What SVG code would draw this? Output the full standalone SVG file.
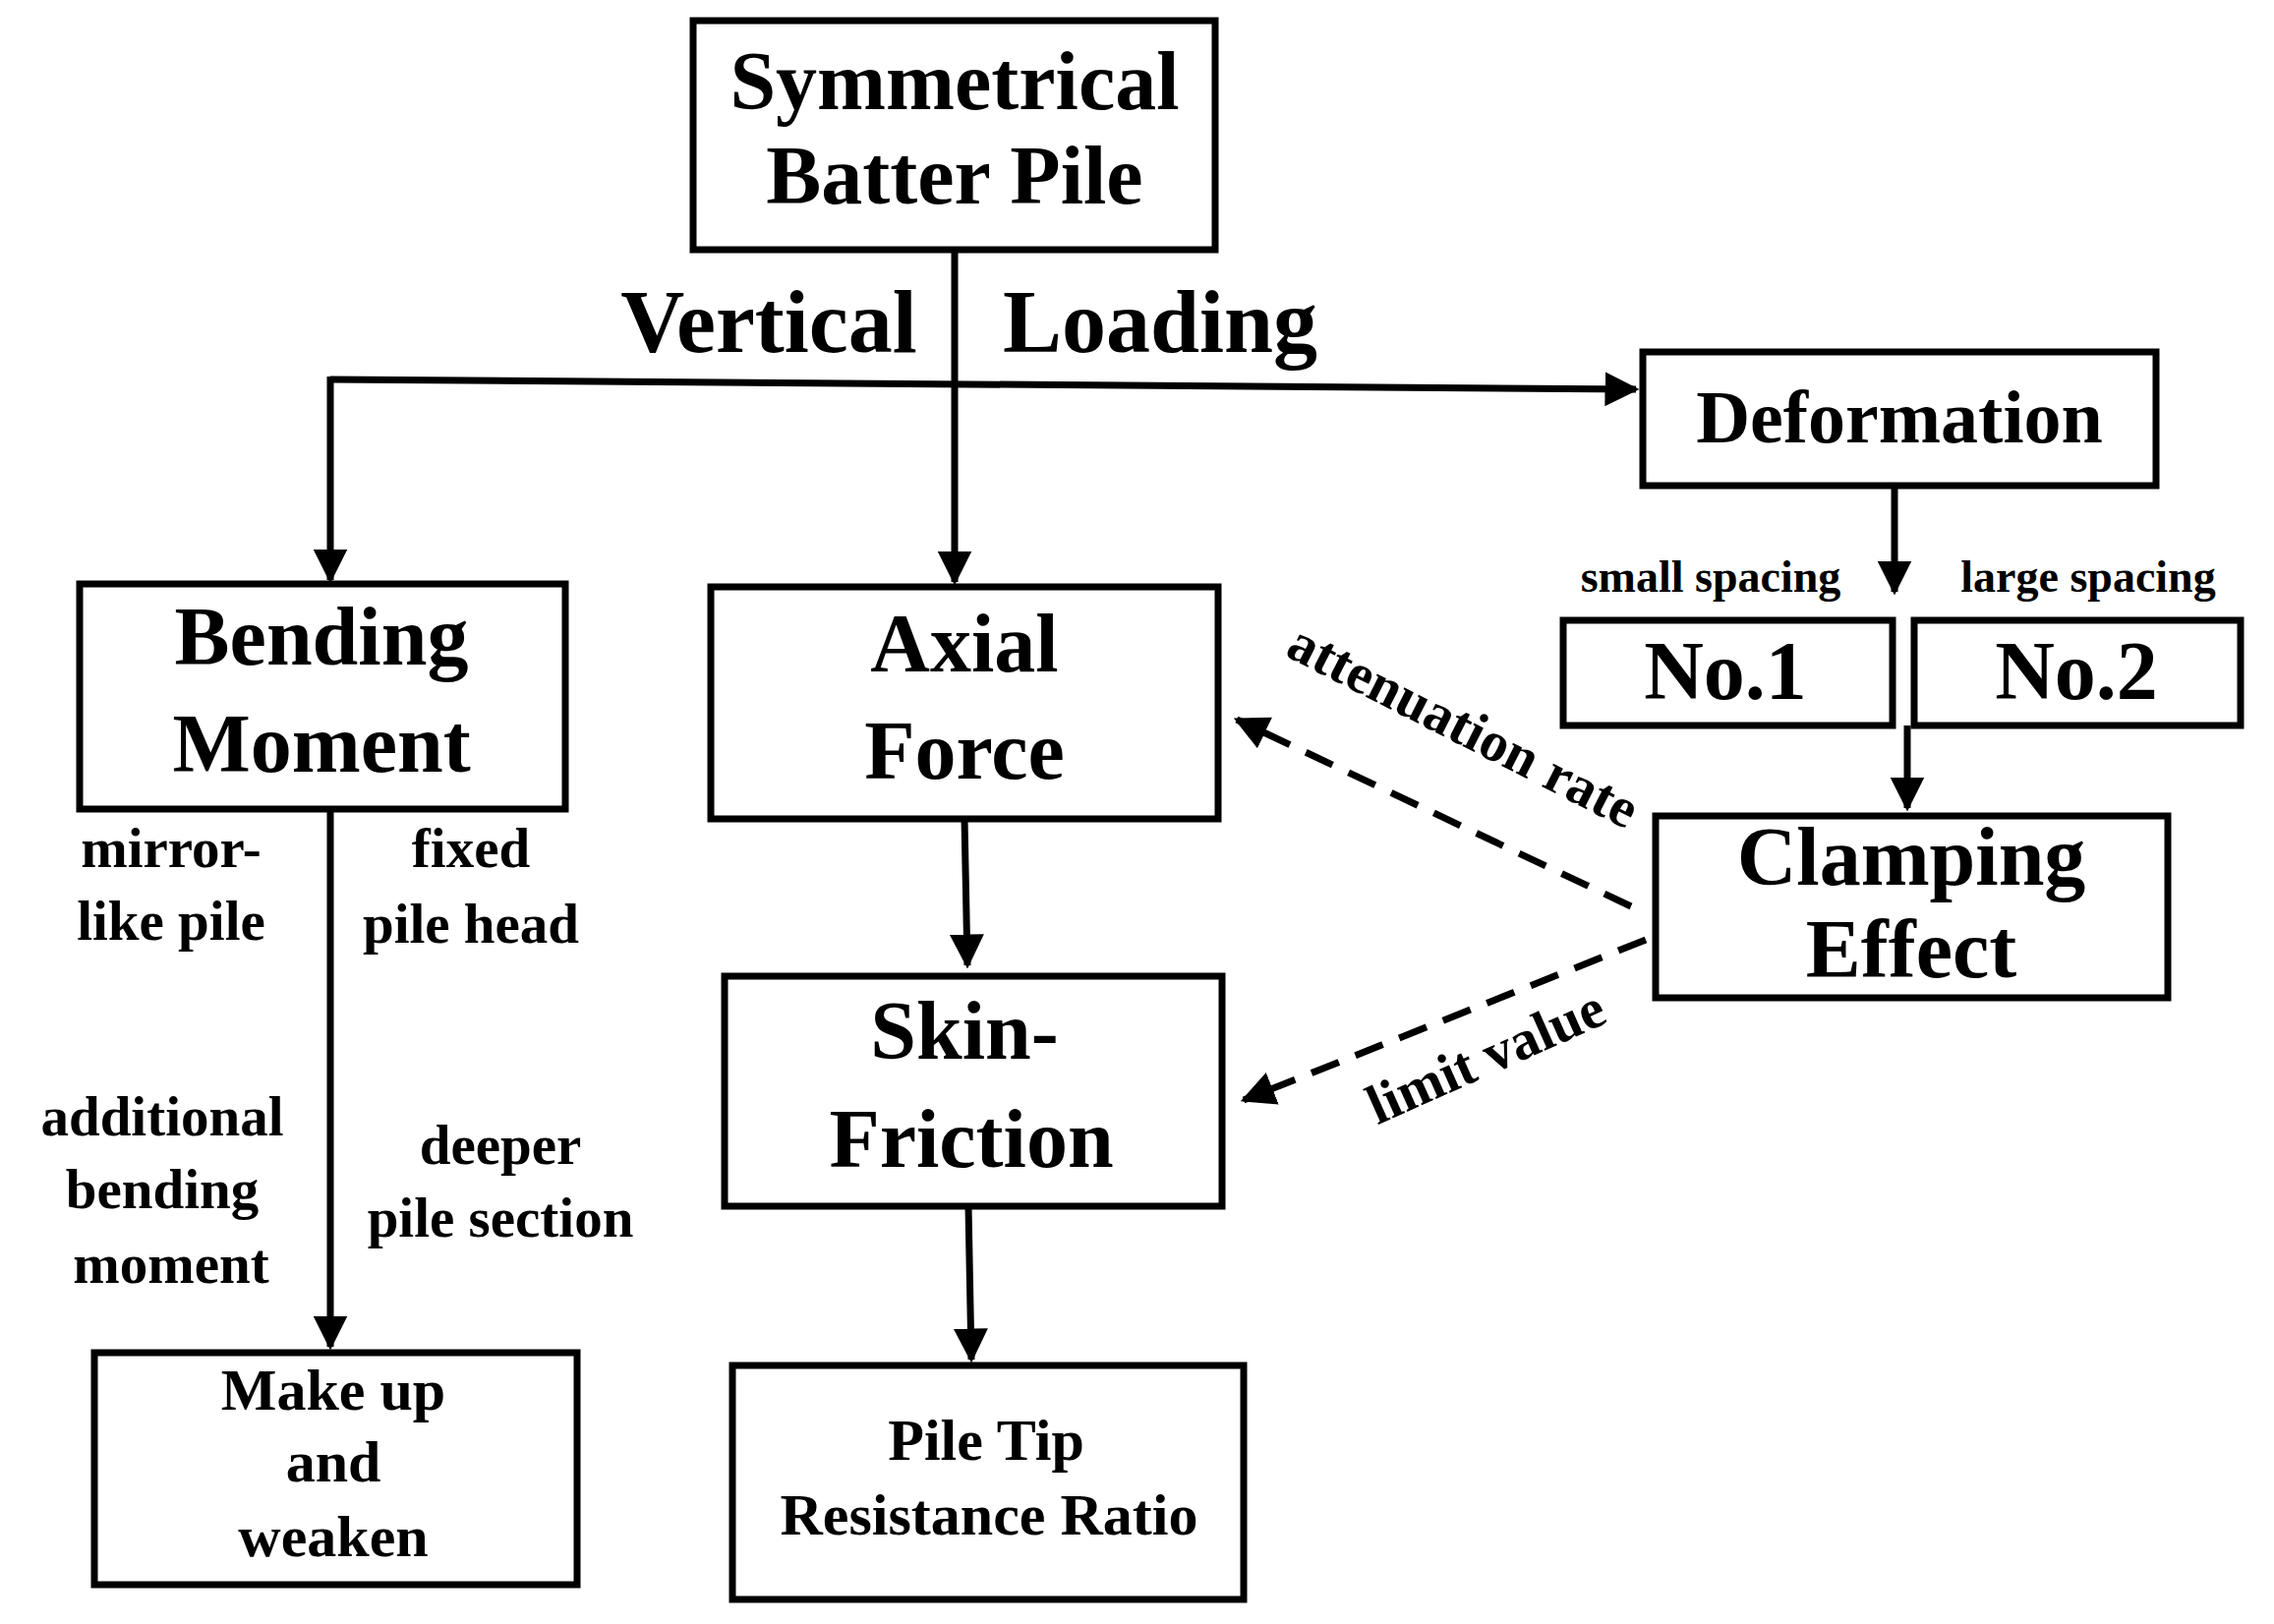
<svg xmlns="http://www.w3.org/2000/svg" width="2313" height="1652" viewBox="0 0 2313 1652">
<style>
rect{fill:#fff;stroke:#000;stroke-width:7}
text{font-family:"Liberation Serif","Times New Roman",serif;font-weight:bold;text-anchor:middle;fill:#000}
.b{font-size:84px}.m{font-size:60px}.s{font-size:57px}.xs{font-size:46px}
.c line,.c polyline{stroke:#000;stroke-width:7;fill:none}
.d{stroke-dasharray:30 18}
</style>
<defs><marker id="a" viewBox="0 0 10 10" refX="9" refY="5" markerWidth="5" markerHeight="5" orient="auto" markerUnits="strokeWidth"><path d="M0,0L10,5L0,10z" fill="#000"/></marker></defs>
<rect width="2313" height="1652" style="fill:#fff;stroke:none"/>
<g class="c">
<line x1="971" y1="254" x2="971" y2="592" marker-end="url(#a)"/>
<line x1="336" y1="386" x2="1664" y2="396" marker-end="url(#a)"/>
<line x1="336" y1="383" x2="336" y2="590" marker-end="url(#a)"/>
<line x1="1927" y1="494" x2="1927" y2="602" marker-end="url(#a)"/>
<line x1="1940" y1="738" x2="1940" y2="822" marker-end="url(#a)"/>
<line x1="336" y1="823" x2="336" y2="1370" marker-end="url(#a)"/>
<line x1="981" y1="833" x2="984" y2="982" marker-end="url(#a)"/>
<line x1="985" y1="1227" x2="988" y2="1383" marker-end="url(#a)"/>
<line class="d" x1="1659" y1="922" x2="1258" y2="732" marker-end="url(#a)"/>
<line class="d" x1="1674" y1="956" x2="1265" y2="1119" marker-end="url(#a)"/>
</g>
<g id="n1"><rect x="705" y="21" width="531" height="233"/><text class="b" x="971" y="111">Symmetrical</text><text class="b" x="971" y="207">Batter Pile</text></g>
<g id="lbl"><text class="b" x="782" y="358" style="font-size:90px">Vertical</text><text class="b" x="1180" y="358" style="font-size:90px">Loading</text></g>
<g id="n2"><rect x="1671" y="358" width="522" height="136"/><text class="b" x="1932" y="450" style="font-size:76px">Deformation</text></g>
<g id="sp"><text class="xs" x="1740" y="602">small spacing</text><text class="xs" x="2124" y="602">large spacing</text></g>
<g id="n3"><rect x="1590" y="631" width="335" height="107"/><text class="b" x="1755" y="711">No.1</text></g>
<g id="n4"><rect x="1947" y="631" width="332" height="107"/><text class="b" x="2112" y="711">No.2</text></g>
<g id="n5"><rect x="81" y="594" width="494" height="229"/><text class="b" x="327" y="676">Bending</text><text class="b" x="327" y="785">Moment</text></g>
<g id="n6"><rect x="723" y="597" width="516" height="236"/><text class="b" x="981" y="683">Axial</text><text class="b" x="981" y="792">Force</text></g>
<g id="n7"><rect x="1684" y="830" width="521" height="185"/><text class="b" x="1944" y="900">Clamping</text><text class="b" x="1944" y="994">Effect</text></g>
<g id="n8"><rect x="737" y="993" width="506" height="234"/><text class="b" x="981" y="1077">Skin-</text><text class="b" x="988" y="1187">Friction</text></g>
<g id="n9"><rect x="96" y="1376" width="491" height="236"/><text class="m" x="339" y="1434">Make up</text><text class="m" x="339" y="1507">and</text><text class="m" x="339" y="1583">weaken</text></g>
<g id="n10"><rect x="745" y="1389" width="520" height="238"/><text class="m" x="1003" y="1485">Pile Tip</text><text class="m" x="1006" y="1561">Resistance Ratio</text></g>
<g id="labels">
<text class="s" x="174" y="882">mirror-</text><text class="s" x="174" y="956">like pile</text>
<text class="s" x="479" y="882">fixed</text><text class="s" x="479" y="959">pile head</text>
<text class="s" x="165" y="1155">additional</text><text class="s" x="165" y="1229">bending</text><text class="s" x="174" y="1305">moment</text>
<text class="s" x="509" y="1184">deeper</text><text class="s" x="509" y="1258">pile section</text>
<text class="s" transform="translate(1480,755) rotate(27)">attenuation rate</text>
<text class="s" transform="translate(1519,1092) rotate(-24)">limit value</text>
</g>
</svg>
